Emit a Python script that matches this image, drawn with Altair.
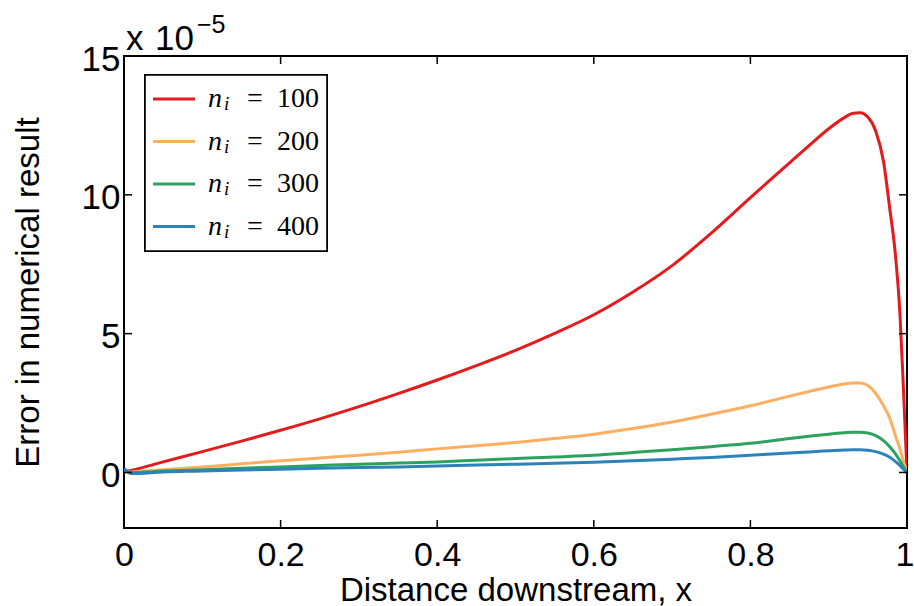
import altair as alt
import pandas as pd

# Grid of downstream positions shared by every series
x_pos = [0.0, 0.01, 0.05, 0.1, 0.15, 0.2, 0.25, 0.3, 0.35, 0.4, 0.45, 0.5,
         0.55, 0.6, 0.65, 0.7, 0.75, 0.8, 0.85, 0.88, 0.9, 0.92, 0.93, 0.94,
         0.95, 0.96, 0.97, 0.978, 0.985, 0.991, 0.995, 1.0]

# Error values, in units of 1e-5
err_100 = [0.02, 0.08, 0.38, 0.75, 1.13, 1.52, 1.93, 2.37, 2.84, 3.33, 3.85, 4.4,
           5.01, 5.68, 6.5, 7.45, 8.62, 9.9, 11.15, 11.9, 12.38, 12.78, 12.93, 12.96,
           12.8, 12.3, 11.2, 9.5, 7.9, 5.7, 3.3, 0.0]
err_200 = [0.03, 0.02, 0.1, 0.2, 0.31, 0.42, 0.52, 0.62, 0.73, 0.85, 0.96, 1.08,
           1.22, 1.38, 1.58, 1.82, 2.1, 2.4, 2.75, 2.95, 3.08, 3.19, 3.22, 3.22,
           3.13, 2.85, 2.4, 1.95, 1.35, 0.85, 0.45, 0.0]
err_300 = [0.08, 0.0, 0.05, 0.1, 0.15, 0.2, 0.25, 0.3, 0.34, 0.38, 0.44, 0.5,
           0.56, 0.62, 0.72, 0.82, 0.93, 1.05, 1.22, 1.32, 1.38, 1.43, 1.45, 1.45,
           1.42, 1.33, 1.15, 0.93, 0.68, 0.42, 0.22, 0.0]
err_400 = [0.15, -0.04, 0.02, 0.05, 0.09, 0.12, 0.15, 0.18, 0.2, 0.23, 0.27, 0.3,
           0.33, 0.37, 0.42, 0.48, 0.54, 0.62, 0.7, 0.75, 0.78, 0.81, 0.82, 0.82,
           0.8, 0.75, 0.66, 0.55, 0.4, 0.25, 0.13, 0.0]

series_labels = ["100", "200", "300", "400"]
series_values = [err_100, err_200, err_300, err_400]
series_colors = ["#e41a1c", "#fdae61", "#2ca25f", "#2b83ba"]

x_ticks = [0, 0.2, 0.4, 0.6, 0.8, 1]
y_ticks = [0, 5, 10, 15]

W, H = 783, 472
SANS = "Liberation Sans"
SERIF = "Liberation Serif"

x_scale = alt.Scale(domain=[0, 1], nice=False, zero=False)
y_scale = alt.Scale(domain=[-2, 15], nice=False, zero=False)

x_axis = alt.Axis(values=x_ticks, format=".1~f", ticks=False, domain=False,
                  grid=False, labelFont=SANS, labelFontSize=34, labelColor="black",
                  labelBaseline="alphabetic", labelPadding=37, labelFlush=False,
                  labelOverlap=False,
                  labelAlign={"condition": {"test": "datum.value == 1", "value": "right"},
                              "value": "center"},
                  labelOffset={"condition": {"test": "datum.value == 1", "value": 7},
                               "value": 0},
                  title="Distance downstream, x", titleFont=SANS, titleFontSize=33,
                  titleFontWeight="normal", titleColor="black", titleBaseline="alphabetic",
                  titleY=72, titleX=W / 2, titleAlign="center")
y_axis = alt.Axis(values=y_ticks, ticks=False, domain=False, grid=False,
                  labelFont=SANS, labelFontSize=35, labelColor="black",
                  labelBaseline="middle", labelOffset=3, labelPadding=4, labelFlush=False,
                  labelOverlap=False,
                  title="Error in numerical result", titleFont=SANS, titleFontSize=33,
                  titleFontWeight="normal", titleColor="black", titleAngle=270,
                  titleBaseline="alphabetic", titleAlign="center", titleX=-86, titleY=H / 2)

X = alt.X("x:Q", scale=x_scale, axis=x_axis)
Y = alt.Y("err:Q", scale=y_scale, axis=y_axis)

layers = []
for lab, vals, col in zip(series_labels, series_values, series_colors):
    d = pd.DataFrame({"x": x_pos, "err": vals})
    layers.append(
        alt.Chart(d).mark_line(color=col, strokeWidth=3, clip=True,
                               interpolate="monotone").encode(x=X, y=Y)
    )

# Inward tick marks on all four sides of the box
xt = pd.DataFrame({"x": x_ticks})
yt = pd.DataFrame({"err": y_ticks})
tick_style = dict(color="black", strokeWidth=1.5)
x_ticks_bottom = alt.Chart(xt).mark_rule(**tick_style).encode(
    x=X, y=alt.value(H), y2=alt.value(H - 8))
x_ticks_top = alt.Chart(xt).mark_rule(**tick_style).encode(
    x=X, y=alt.value(0), y2=alt.value(8))
y_ticks_left = alt.Chart(yt).mark_rule(**tick_style).encode(
    y=Y, x=alt.value(0), x2=alt.value(8))
y_ticks_right = alt.Chart(yt).mark_rule(**tick_style).encode(
    y=Y, x=alt.value(W), x2=alt.value(W - 8))

# Axis multiplier above the y axis
mult = pd.DataFrame({"t": ["x", "10", "\u22125"], "px": [2, 31, 73],
                     "py": [-6, -6, -23], "fs": [35, 35, 25]})
multiplier = alt.Chart(mult).mark_text(font=SANS, align="left", baseline="alphabetic",
                                       color="black").encode(
    x=alt.X("px:Q", scale=None), y=alt.Y("py:Q", scale=None),
    text="t:N", size=alt.Size("fs:Q", scale=None, legend=None))

# Legend box
leg = pd.DataFrame({"label": series_labels, "color": series_colors, "row": [0, 1, 2, 3]})
leg_base = alt.Chart(leg).transform_calculate(ly="43 + 42.5 * datum.row")
leg_box = alt.Chart(leg).mark_rect(fill="white", stroke="black", strokeWidth=1.6).encode(
    x=alt.value(21), x2=alt.value(203), y=alt.value(19), y2=alt.value(195))
leg_lines = leg_base.mark_rule(strokeWidth=3).encode(
    y=alt.Y("ly:Q", scale=None), x=alt.value(29), x2=alt.value(71),
    color=alt.Color("color:N", scale=None))
leg_n = leg_base.transform_calculate(ty="datum.ly + 8").mark_text(
    text="n", font=SERIF, fontStyle="italic", fontSize=28, align="left",
    baseline="alphabetic", color="black").encode(
    x=alt.value(84), y=alt.Y("ty:Q", scale=None))
leg_i = leg_base.transform_calculate(ty="datum.ly + 11").mark_text(
    text="i", font=SERIF, fontStyle="italic", fontSize=19, align="left",
    baseline="alphabetic", color="black").encode(
    x=alt.value(100), y=alt.Y("ty:Q", scale=None))
leg_eq = leg_base.transform_calculate(ty="datum.ly + 8").mark_text(
    text="=", font=SERIF, fontSize=28, align="center",
    baseline="alphabetic", color="black").encode(
    x=alt.value(131), y=alt.Y("ty:Q", scale=None))
leg_num = leg_base.transform_calculate(ty="datum.ly + 8").mark_text(
    font=SERIF, fontSize=28, align="left", baseline="alphabetic", color="black").encode(
    x=alt.value(153), y=alt.Y("ty:Q", scale=None), text="label:N")

chart = alt.layer(
    *layers, x_ticks_bottom, x_ticks_top, y_ticks_left, y_ticks_right,
    multiplier, leg_box, leg_lines, leg_n, leg_i, leg_eq, leg_num
).properties(
    width=W, height=H,
    padding={"left": 124, "top": 56, "right": 7, "bottom": 78},
    autosize=alt.AutoSizeParams(type="none"),
    background="white",
).configure_view(stroke="black", strokeWidth=2)

chart.save("out.html", embed_options={"renderer": "svg", "actions": False})
